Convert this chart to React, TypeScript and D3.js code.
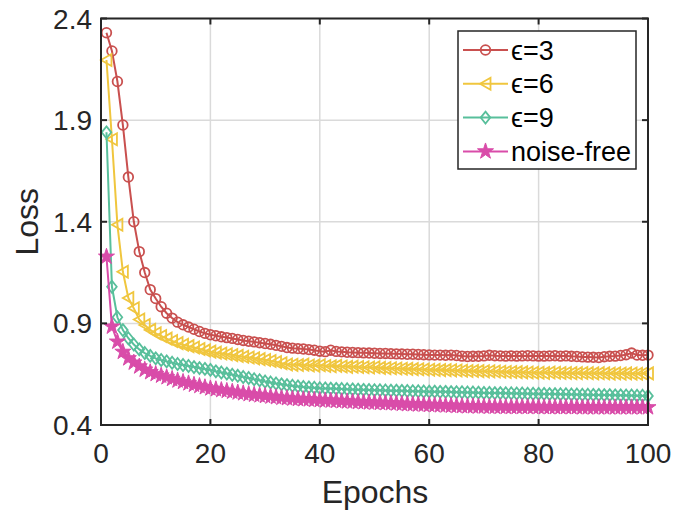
import React from "react";
import * as d3 from "d3";

const epochs = d3.range(1, 101);

const eps3 = [
  2.33, 2.24, 2.09, 1.876, 1.62, 1.4, 1.253, 1.15, 1.066, 1.022,
  0.982, 0.95, 0.926, 0.906, 0.893, 0.882, 0.871, 0.86, 0.851, 0.844,
  0.839, 0.834, 0.83, 0.826, 0.821, 0.816, 0.812, 0.809, 0.805, 0.801,
  0.797, 0.792, 0.787, 0.781, 0.778, 0.776, 0.774, 0.771, 0.768, 0.763,
  0.761, 0.768, 0.762, 0.76, 0.758, 0.757, 0.756, 0.755, 0.754, 0.753,
  0.752, 0.752, 0.751, 0.75, 0.749, 0.748, 0.748, 0.747, 0.746, 0.745,
  0.744, 0.744, 0.743, 0.744, 0.742, 0.739, 0.737, 0.738, 0.738, 0.74,
  0.743, 0.741, 0.74, 0.739, 0.74, 0.739, 0.74, 0.741, 0.74, 0.739,
  0.739, 0.74, 0.741, 0.739, 0.74, 0.738, 0.737, 0.735, 0.734, 0.733,
  0.732, 0.736, 0.738, 0.739, 0.742, 0.746, 0.754, 0.744, 0.743, 0.744,
];

const eps6 = [
  2.196, 1.806, 1.385, 1.154, 1.025, 0.974, 0.919, 0.892, 0.868, 0.851,
  0.838, 0.825, 0.813, 0.803, 0.795, 0.788, 0.781, 0.774, 0.767, 0.761,
  0.756, 0.752, 0.748, 0.744, 0.74, 0.736, 0.732, 0.728, 0.724, 0.72,
  0.715, 0.71, 0.704, 0.698, 0.696, 0.695, 0.697, 0.693, 0.692, 0.694,
  0.69, 0.689, 0.691, 0.688, 0.686, 0.687, 0.685, 0.684, 0.683, 0.684,
  0.681, 0.68, 0.679, 0.678, 0.677, 0.676, 0.675, 0.674, 0.673, 0.672,
  0.671, 0.67, 0.67, 0.669, 0.668, 0.667, 0.666, 0.666, 0.665, 0.664,
  0.664, 0.663, 0.662, 0.661, 0.661, 0.66, 0.659, 0.658, 0.657, 0.657,
  0.656, 0.658, 0.657, 0.656, 0.656, 0.655, 0.655, 0.656, 0.655, 0.654,
  0.655, 0.654, 0.653, 0.654, 0.653, 0.654, 0.653, 0.652, 0.653, 0.654,
];

const eps9 = [
  1.84, 1.08, 0.93, 0.867, 0.827, 0.796, 0.772, 0.754, 0.74, 0.728,
  0.72, 0.713, 0.706, 0.7, 0.695, 0.69, 0.685, 0.68, 0.676, 0.671,
  0.664, 0.658, 0.653, 0.647, 0.642, 0.636, 0.631, 0.625, 0.62, 0.614,
  0.609, 0.604, 0.6, 0.596, 0.593, 0.59, 0.587, 0.585, 0.583, 0.581,
  0.58, 0.579, 0.578, 0.577, 0.576, 0.575, 0.574, 0.573, 0.572, 0.571,
  0.571, 0.57, 0.569, 0.569, 0.568, 0.567, 0.566, 0.566, 0.565, 0.564,
  0.564, 0.563, 0.563, 0.562, 0.561, 0.561, 0.56, 0.56, 0.559, 0.558,
  0.558, 0.557, 0.557, 0.556, 0.556, 0.555, 0.555, 0.554, 0.554, 0.553,
  0.553, 0.552, 0.552, 0.551, 0.551, 0.55, 0.55, 0.549, 0.549, 0.548,
  0.548, 0.547, 0.547, 0.546, 0.546, 0.545, 0.545, 0.544, 0.544, 0.543,
];

const noiseFree = [
  1.228, 0.884, 0.81, 0.76, 0.728, 0.707, 0.688, 0.672, 0.66, 0.651,
  0.643, 0.635, 0.627, 0.619, 0.612, 0.605, 0.598, 0.592, 0.586, 0.58,
  0.576, 0.572, 0.568, 0.564, 0.56, 0.556, 0.552, 0.549, 0.546, 0.543,
  0.54, 0.537, 0.534, 0.532, 0.53, 0.528, 0.527, 0.526, 0.524, 0.523,
  0.521, 0.52, 0.519, 0.517, 0.516, 0.515, 0.513, 0.512, 0.511, 0.51,
  0.509, 0.508, 0.507, 0.506, 0.504, 0.503, 0.502, 0.501, 0.5, 0.499,
  0.498, 0.497, 0.496, 0.495, 0.494, 0.493, 0.492, 0.492, 0.491, 0.491,
  0.49, 0.49, 0.49, 0.489, 0.489, 0.489, 0.489, 0.489, 0.489, 0.489,
  0.488, 0.488, 0.488, 0.488, 0.488, 0.488, 0.488, 0.487, 0.487, 0.487,
  0.487, 0.487, 0.487, 0.487, 0.487, 0.487, 0.487, 0.487, 0.487, 0.487,
];

const xTicks = [0, 20, 40, 60, 80, 100];
const yTicks = [0.4, 0.9, 1.4, 1.9, 2.4];

const series = [
  { label: "ϵ=3", values: eps3, color: "#c9504f", marker: "circle" },
  { label: "ϵ=6", values: eps6, color: "#f0c63e", marker: "triangle" },
  { label: "ϵ=9", values: eps9, color: "#58bf9b", marker: "diamond" },
  { label: "noise-free", values: noiseFree, color: "#d94ca9", marker: "star" },
];

const W = 675;
const H = 515;
const left = 101;
const right = 648;
const top = 18.5;
const bottom = 425;
const font = "'Liberation Sans', Arial, Helvetica, sans-serif";
const axisColor = "#262626";

const starPath = d3.symbol(d3.symbolStar, 80)();

function Marker({ type, x, y, color }) {
  if (type === "circle") {
    return <circle cx={x} cy={y} r={4.8} fill="none" stroke={color} strokeWidth={1.8} />;
  }
  if (type === "triangle") {
    return (
      <path
        d={`M${x - 5.5},${y}L${x + 5},${y - 6}L${x + 5},${y + 6}Z`}
        fill="none"
        stroke={color}
        strokeWidth={1.8}
      />
    );
  }
  if (type === "diamond") {
    return (
      <path
        d={`M${x},${y - 6}L${x + 4.8},${y}L${x},${y + 6}L${x - 4.8},${y}Z`}
        fill="none"
        stroke={color}
        strokeWidth={1.8}
      />
    );
  }
  return <path d={starPath} transform={`translate(${x},${y})`} fill={color} stroke={color} strokeWidth={1} />;
}

export default function App() {
  const x = d3.scaleLinear().domain([0, 100]).range([left, right]);
  const y = d3.scaleLinear().domain([0.4, 2.4]).range([bottom, top]);

  const line = d3
    .line<number>()
    .x((d, i) => x(epochs[i]))
    .y((d) => y(d));

  const legendX = 458;
  const legendY = 31;
  const rowH = 33.8;

  return (
    <svg
      width={W}
      height={H}
      style={{ position: "absolute", left: 0, top: 0, background: "#fff" }}
      fontFamily={font}
    >
      <rect x={left} y={top} width={right - left} height={bottom - top} fill="#fff" />

      {/* grid */}
      {xTicks.map((t) => (
        <line key={"gx" + t} x1={x(t)} x2={x(t)} y1={top} y2={bottom} stroke="#dadada" strokeWidth={1.5} />
      ))}
      {yTicks.map((t) => (
        <line key={"gy" + t} x1={left} x2={right} y1={y(t)} y2={y(t)} stroke="#dadada" strokeWidth={1.5} />
      ))}

      {/* series */}
      {series.map((s) => (
        <g key={s.label}>
          <path d={line(s.values) || ""} fill="none" stroke={s.color} strokeWidth={2} />
          {s.values.map((v, i) => (
            <Marker key={i} type={s.marker} x={x(epochs[i])} y={y(v)} color={s.color} />
          ))}
        </g>
      ))}

      {/* box and ticks */}
      <rect x={left} y={top} width={right - left} height={bottom - top} fill="none" stroke={axisColor} strokeWidth={2} />
      {xTicks.map((t) => (
        <g key={"tx" + t}>
          <line x1={x(t)} x2={x(t)} y1={bottom} y2={bottom - 6} stroke={axisColor} strokeWidth={2} />
          <line x1={x(t)} x2={x(t)} y1={top} y2={top + 6} stroke={axisColor} strokeWidth={2} />
          <text x={x(t)} y={463} textAnchor="middle" fontSize={28} fill={axisColor}>
            {t}
          </text>
        </g>
      ))}
      {yTicks.map((t) => (
        <g key={"ty" + t}>
          <line x1={left} x2={left + 6} y1={y(t)} y2={y(t)} stroke={axisColor} strokeWidth={2} />
          <line x1={right} x2={right - 6} y1={y(t)} y2={y(t)} stroke={axisColor} strokeWidth={2} />
          <text x={92} y={y(t) + 10} textAnchor="end" fontSize={28} fill={axisColor}>
            {t.toFixed(1)}
          </text>
        </g>
      ))}

      {/* axis labels */}
      <text x={375} y={503} textAnchor="middle" fontSize={32} fill={axisColor}>
        Epochs
      </text>
      <text
        transform={`translate(38,${(top + bottom) / 2}) rotate(-90)`}
        textAnchor="middle"
        fontSize={32}
        fill={axisColor}
      >
        Loss
      </text>

      {/* legend */}
      <rect x={legendX} y={legendY} width={178} height={138} fill="#fff" stroke={axisColor} strokeWidth={1.5} />
      {series.map((s, i) => {
        const cy = legendY + 19 + i * rowH;
        return (
          <g key={"lg" + s.label}>
            <line x1={463} x2={508} y1={cy} y2={cy} stroke={s.color} strokeWidth={2} />
            <Marker type={s.marker} x={485.5} y={cy} color={s.color} />
            <text x={511} y={cy + 9.5} fontSize={27} fill="#000">
              {s.label}
            </text>
          </g>
        );
      })}
    </svg>
  );
}
